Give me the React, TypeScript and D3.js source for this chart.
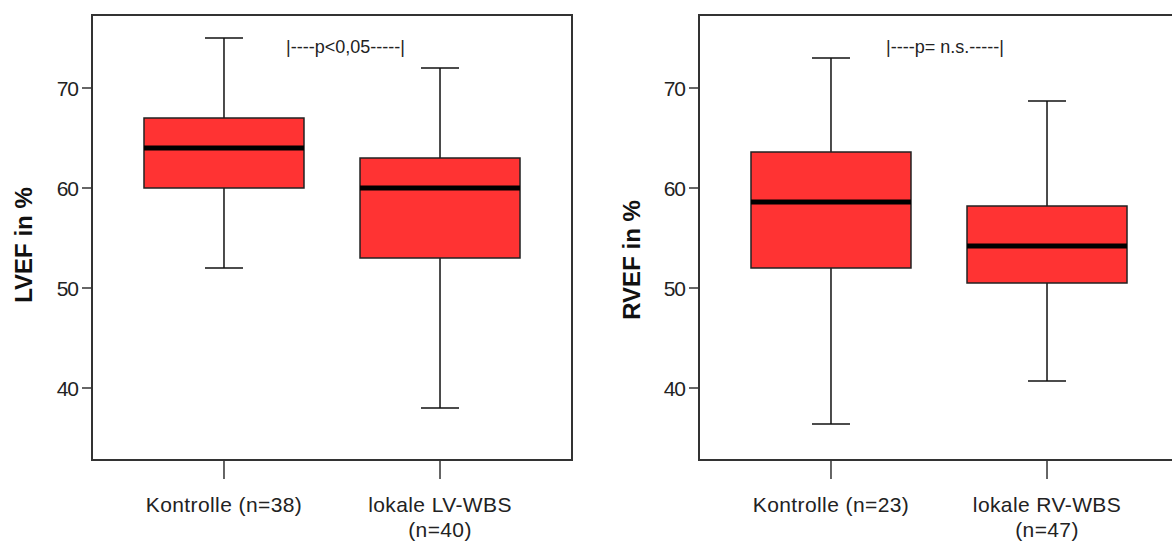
import React from "react";
import * as d3 from "d3";

// ---------- data ----------
const lvCategories = ["Kontrolle (n=38)", "lokale LV-WBS (n=40)"];
const lvLabelLines = [["Kontrolle (n=38)"], ["lokale LV-WBS", "(n=40)"]];
const lvWhiskerLow = [52, 38];
const lvQ1 = [60, 53];
const lvMedian = [64, 60];
const lvQ3 = [67, 63];
const lvWhiskerHigh = [75, 72];

const rvCategories = ["Kontrolle (n=23)", "lokale RV-WBS (n=47)"];
const rvLabelLines = [["Kontrolle (n=23)"], ["lokale RV-WBS", "(n=47)"]];
const rvWhiskerLow = [36.4, 40.7];
const rvQ1 = [52, 50.5];
const rvMedian = [58.6, 54.2];
const rvQ3 = [63.6, 58.2];
const rvWhiskerHigh = [73, 68.7];

const yTicks = [40, 50, 60, 70];

const panels = [
  {
    title: "LVEF in %",
    note: "|----p<0,05-----|",
    categories: lvCategories,
    lines: lvLabelLines,
    lo: lvWhiskerLow, q1: lvQ1, med: lvMedian, q3: lvQ3, hi: lvWhiskerHigh,
  },
  {
    title: "RVEF in %",
    note: "|----p= n.s.-----|",
    categories: rvCategories,
    lines: rvLabelLines,
    lo: rvWhiskerLow, q1: rvQ1, med: rvMedian, q3: rvQ3, hi: rvWhiskerHigh,
  },
];

// ---------- layout ----------
const W = 1172;
const H = 545;
const frameTop = 15;
const frameBottom = 460;
const frameW = 480;
const panelLeft = [92, 699];
const titleX = [23, 631];
const titleY = [245, 260];
const noteX = [286, 886];

const y = d3.scaleLinear().domain([40, 70]).range([388, 88]);

const RED = "#ff3333";
const FRAME = "#333";
const tickFont = "'Liberation Sans', Arial, sans-serif";

function Panel({ p, i }: { p: any; i: number }) {
  const left = panelLeft[i];
  const x = d3
    .scalePoint<string>()
    .domain(p.categories)
    .range([left, left + frameW])
    .padding(0.611);
  const boxW = 160;
  const capW = 38;
  return (
    <g>
      {/* frame */}
      <rect
        x={left}
        y={frameTop}
        width={frameW}
        height={frameBottom - frameTop}
        fill="none"
        stroke={FRAME}
        strokeWidth={2}
      />
      {/* y ticks */}
      {yTicks.map((t) => (
        <g key={t}>
          <line x1={left - 10} x2={left} y1={y(t)} y2={y(t)} stroke={FRAME} strokeWidth={1.5} />
          <text
            x={left - 14}
            y={y(t)}
            dy="0.36em"
            textAnchor="end"
            fontFamily={tickFont}
            fontSize={21}
            letterSpacing={-1}
            fill="#222"
          >
            {t}
          </text>
        </g>
      ))}
      {/* title */}
      <text
        transform={`translate(${titleX[i]},${titleY[i]}) rotate(-90)`}
        textAnchor="middle"
        dominantBaseline="central"
        fontFamily={tickFont}
        fontWeight="bold"
        fontSize={24}
        fill="#111"
      >
        {p.title}
      </text>
      {/* note */}
      <text
        x={noteX[i]}
        y={47}
        dy="0.35em"
        fontFamily={tickFont}
        fontSize={18}
        fill="#222"
      >
        {p.note}
      </text>
      {/* boxes */}
      {p.categories.map((c: string, k: number) => {
        const cx = x(c) as number;
        return (
          <g key={c}>
            <line x1={cx} x2={cx} y1={y(p.hi[k])} y2={y(p.q3[k])} stroke="#111" strokeWidth={1.5} />
            <line x1={cx} x2={cx} y1={y(p.q1[k])} y2={y(p.lo[k])} stroke="#111" strokeWidth={1.5} />
            <line x1={cx - capW / 2} x2={cx + capW / 2} y1={y(p.hi[k])} y2={y(p.hi[k])} stroke="#111" strokeWidth={1.5} />
            <line x1={cx - capW / 2} x2={cx + capW / 2} y1={y(p.lo[k])} y2={y(p.lo[k])} stroke="#111" strokeWidth={1.5} />
            <rect
              x={cx - boxW / 2}
              y={y(p.q3[k])}
              width={boxW}
              height={y(p.q1[k]) - y(p.q3[k])}
              fill={RED}
              stroke="#222"
              strokeWidth={1.5}
            />
            <line
              x1={cx - boxW / 2}
              x2={cx + boxW / 2}
              y1={y(p.med[k])}
              y2={y(p.med[k])}
              stroke="#000"
              strokeWidth={5}
            />
            {/* x tick */}
            <line x1={cx} x2={cx} y1={frameBottom} y2={frameBottom + 19} stroke={FRAME} strokeWidth={1.5} />
            {p.lines[k].map((ln: string, j: number) => (
              <text
                key={j}
                x={cx}
                y={512 + j * 25}
                textAnchor="middle"
                fontFamily={tickFont}
                fontSize={21}
                letterSpacing={0.4}
                fill="#222"
              >
                {ln}
              </text>
            ))}
          </g>
        );
      })}
    </g>
  );
}

export default function App() {
  return (
    <svg
      width={W}
      height={H}
      viewBox={`0 0 ${W} ${H}`}
      style={{ position: "absolute", left: 0, top: 0, background: "#fff" }}
    >
      <rect width={W} height={H} fill="#fff" />
      {panels.map((p, i) => (
        <Panel key={i} p={p} i={i} />
      ))}
    </svg>
  );
}
